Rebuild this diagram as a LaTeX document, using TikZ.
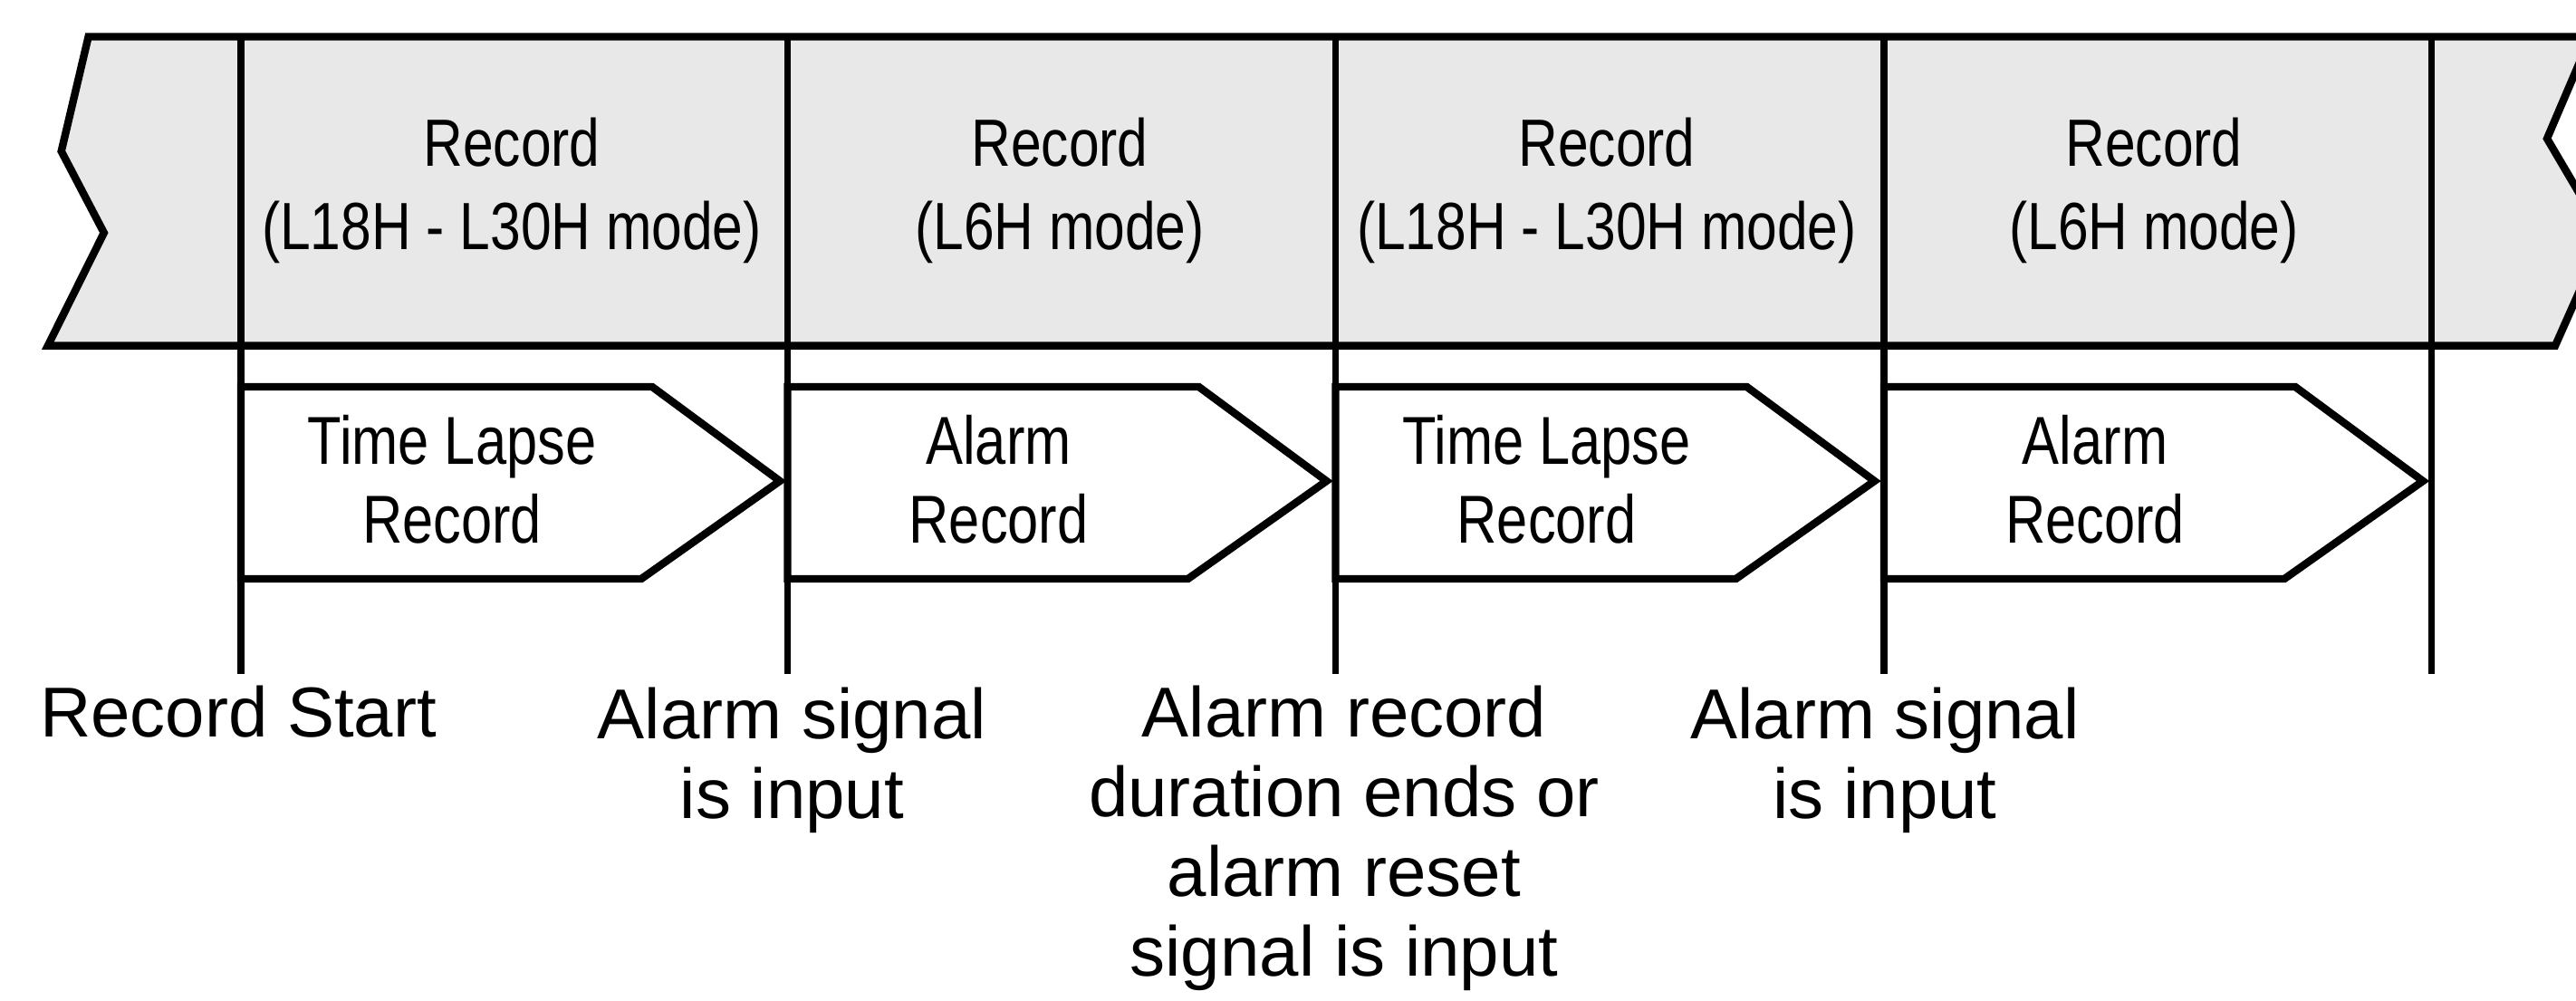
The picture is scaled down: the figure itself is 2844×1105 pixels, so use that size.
\documentclass[tikz,border=0pt]{standalone}
\usepackage{fontspec}
\setmainfont{Liberation Sans}
\newfontfamily\narrowfont[FakeStretch=0.82]{Liberation Sans}
\definecolor{bandgray}{RGB}{232,232,232}
\begin{document}
\begin{tikzpicture}[x=0.1mm,y=-0.1mm,
  bandline/.style={line width=2.4pt, line join=miter},
  vline/.style={line width=2.15pt},
  penta/.style={draw, line width=2.4pt, line join=miter, fill=white},
  celltext/.style={font=\narrowfont\fontsize{21pt}{26.4pt}\selectfont, align=center, inner sep=0pt, anchor=base},
  pentext/.style={font=\narrowfont\fontsize{21.3pt}{24.8pt}\selectfont, align=center, inner sep=0pt, anchor=base},
  evlabel/.style={font=\fontsize{22.2pt}{25pt}\selectfont, align=center, inner sep=0pt, anchor=base}
]
\path[use as bounding box] (0,0) rectangle (2844,1105);
\clip (0,0) rectangle (2844,1105);

% band
\draw[bandline, fill=bandgray] (97.6,40.5) -- (2860,40.5) -- (2812,153) -- (2875,260)
  -- (2821,381.7) -- (52.8,381.7) -- (114.8,257) -- (67.7,167) -- cycle;

% vertical event lines
\foreach \i/\x in {1/266,2/869.5,3/1474.5,4/2080,5/2684.5}{
  \coordinate (t\i) at (\x,40.5);
  \coordinate (b\i) at (\x,744);
}
\foreach \i in {1,...,5}{ \draw[vline] (t\i) -- (b\i); }

% band texts (anchor = baseline of last line)
\node[celltext] (r1) at (565,276) {Record\\(L18H - L30H mode)};
\node[celltext] (r2) at (1170,276) {Record\\(L6H mode)};
\node[celltext] (r3) at (1774,276) {Record\\(L18H - L30H mode)};
\node[celltext] (r4) at (2378,276) {Record\\(L6H mode)};

% pentagons
\foreach \i/\x/\txt in {1/266/{Time Lapse\\Record},2/869.5/{Alarm\\Record},3/1474.5/{Time Lapse\\Record},4/2080/{Alarm\\Record}}{
  \draw[penta] (\x,427) -- (\x+454,427) -- (\x+595,531) -- (\x+442,639) -- (\x,639) -- cycle;
  \node[pentext] (p\i) at (\x+233,599.5) {\txt};
}

% event labels
\node[evlabel] (e1) at ([xshift=-0.3mm]b1 |- 0,813.5) {Record Start};
\node[evlabel] (e2) at ([xshift=0.5mm]b2 |- 0,903) {Alarm signal\\is input};
\node[evlabel] (e3) at ([xshift=0.95mm]b3 |- 0,1077) {Alarm record\\duration ends or\\alarm reset\\signal is input};
\node[evlabel] (e4) at ([xshift=0.1mm]b4 |- 0,903) {Alarm signal\\is input};
\end{tikzpicture}
\end{document}
